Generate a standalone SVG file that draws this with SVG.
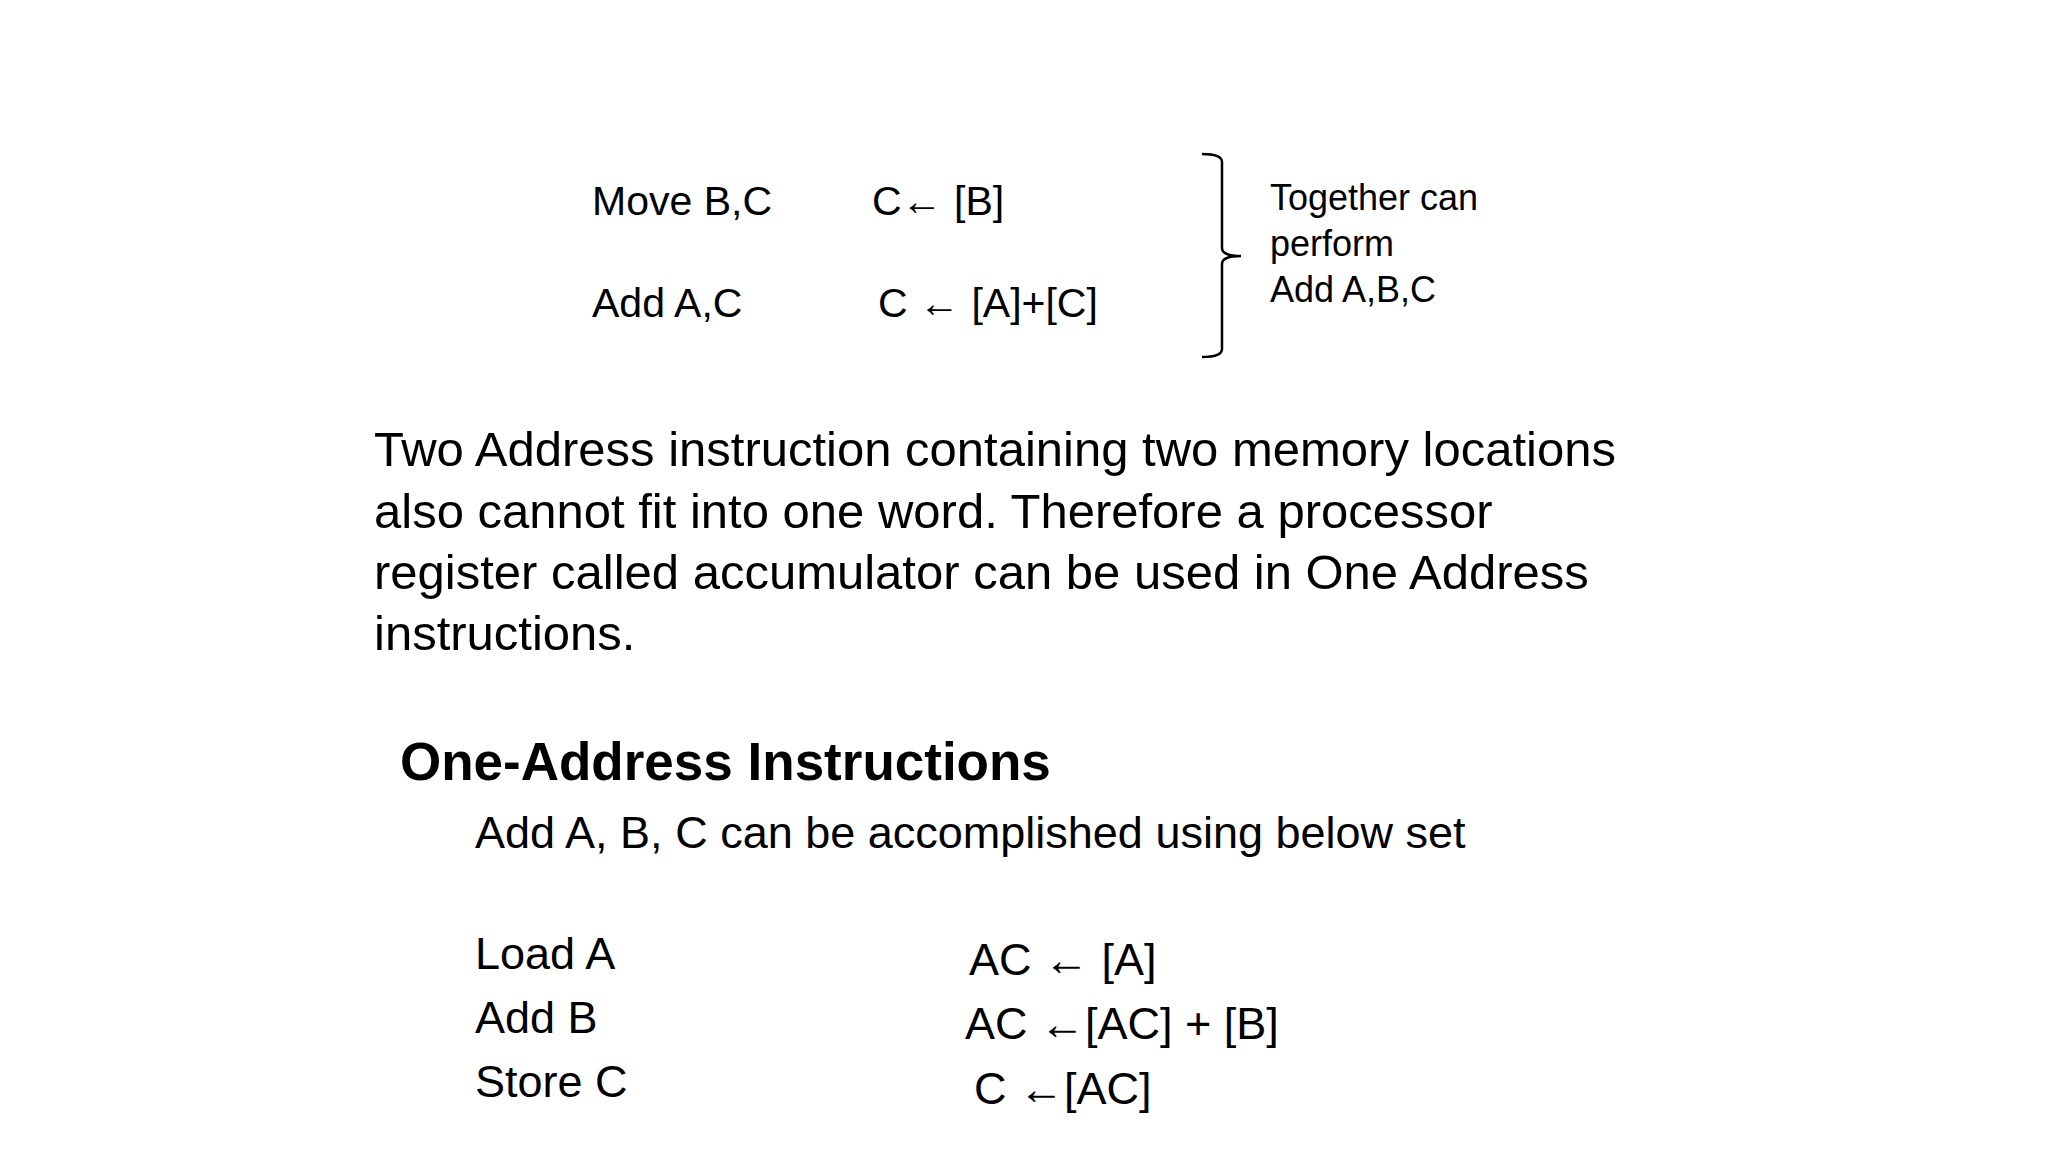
<svg xmlns="http://www.w3.org/2000/svg" width="2048" height="1152" viewBox="0 0 2048 1152">
<style>
text{font-family:"Liberation Sans",Arial,sans-serif;fill:#000}
.t{font-size:41px}.n{font-size:36px}.p{font-size:49px}.h{font-size:53px;font-weight:bold}.b{font-size:45px}
</style>
<rect width="2048" height="1152" fill="#fff"/>
<g id="top">
<text class="t" x="592" y="215">Move B,C</text>
<text class="t" x="872" y="215">C← [B]</text>
<text class="t" x="592" y="317">Add A,C</text>
<text class="t" x="878" y="317">C ← [A]+[C]</text>
</g>
<g id="connectors">
<path d="M1202,154 Q1222,154 1222,162 L1222,248 Q1222,256 1241,256 Q1222,256 1222,264 L1222,349 Q1222,357 1202,357" fill="none" stroke="#000" stroke-width="2.5"/>
</g>
<g id="note">
<text class="n" x="1270" y="210">Together can</text>
<text class="n" x="1270" y="256">perform</text>
<text class="n" x="1270" y="302">Add A,B,C</text>
</g>
<g id="para">
<text class="p" x="374" y="466">Two Address instruction containing two memory locations</text>
<text class="p" x="374" y="528">also cannot fit into one word. Therefore a processor</text>
<text class="p" x="374" y="589">register called accumulator can be used in One Address</text>
<text class="p" x="374" y="650">instructions.</text>
</g>
<g id="one">
<text class="h" x="400" y="780">One-Address Instructions</text>
<text class="b" x="475" y="848">Add A, B, C can be accomplished using below set</text>
<text class="b" x="475" y="969">Load A</text>
<text class="b" x="475" y="1033">Add B</text>
<text class="b" x="475" y="1097">Store C</text>
<text class="b" x="969" y="975">AC ← [A]</text>
<text class="b" x="965" y="1039">AC ←[AC] + [B]</text>
<text class="b" x="974" y="1104">C   ←[AC]</text>
</g>
</svg>
